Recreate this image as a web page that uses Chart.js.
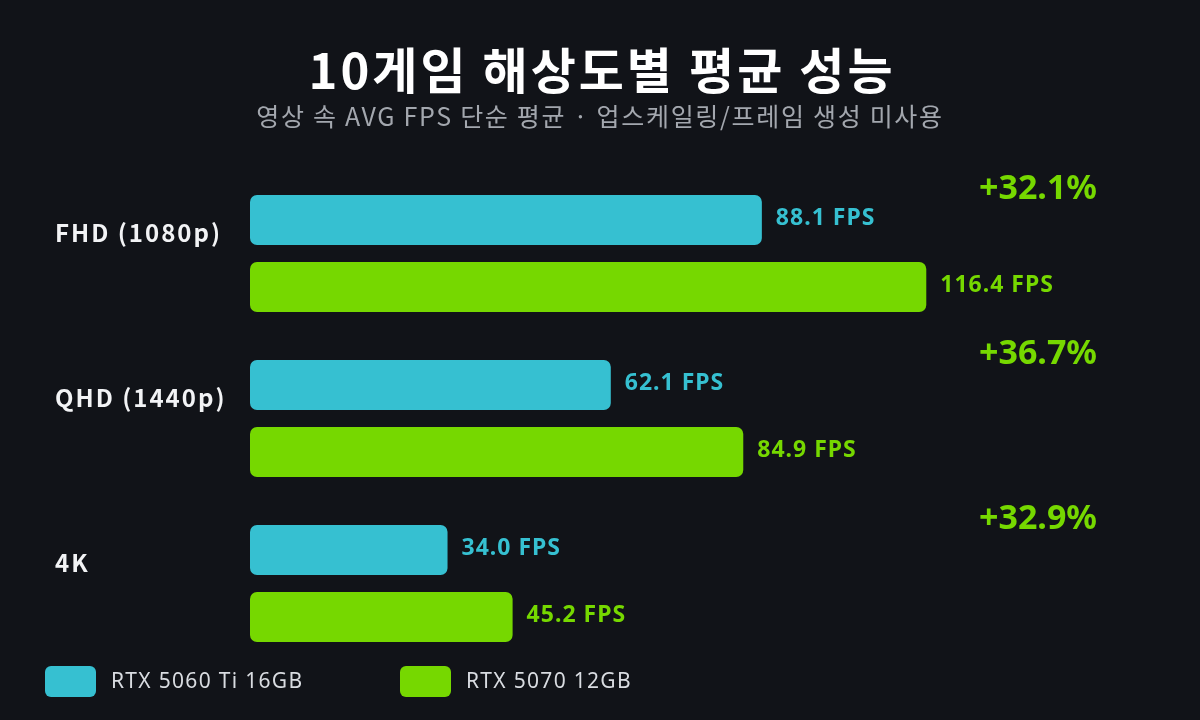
<!DOCTYPE html>
<html>
<head>
<meta charset="utf-8">
<script src="https://cdn.jsdelivr.net/npm/chart.js@4"></script>
<style>
  html, body { margin:0; padding:0; background:#111318; }
  #wrap { width:1200px; height:720px; position:relative; }
</style>
</head>
<body>
<div id="wrap"><canvas id="chart" width="1200" height="720"></canvas></div>
<script>
const categories = ['FHD (1080p)', 'QHD (1440p)', '4K'];
const rtx5060ti = [88.1, 62.1, 34.0];
const rtx5070 = [116.4, 84.9, 45.2];
const gains = ['+32.1%', '+36.7%', '+32.9%'];
const seriesNames = ['RTX 5060 Ti 16GB', 'RTX 5070 12GB'];
const colors = ['#36c0d1', '#76d800'];

const FONT = "'Noto Sans', 'Noto Sans CJK KR', sans-serif";
const KFONT = "'Noto Sans CJK KR', 'Noto Sans', sans-serif";

// 축 라벨 자간
const spacing = {
    id: 'spacing',
    beforeDraw(chart) { chart.ctx.letterSpacing = '2px'; },
    beforeDatasetsDraw(chart) { chart.ctx.letterSpacing = '0px'; }
};

// 제목, 값 라벨, 증가율, 범례
const overlay = {
    id: 'overlay',
    afterDatasetsDraw(chart) {
        const {ctx, chartArea} = chart;
        ctx.save();
        ctx.textAlign = 'center';
        ctx.textBaseline = 'alphabetic';
        ctx.fillStyle = '#ffffff';
        ctx.letterSpacing = '3px';
        ctx.font = "bold 49px " + KFONT;
        ctx.fillText('10게임 해상도별 평균 성능', 602, 89);
        ctx.fillStyle = '#a3a7ae';
        ctx.letterSpacing = '1.7px';
        ctx.font = "25px " + KFONT;
        ctx.fillText('영상 속 AVG FPS 단순 평균 · 업스케일링/프레임 생성 미사용', 600, 126);

        // 값 라벨
        ctx.textAlign = 'left';
        ctx.textBaseline = 'middle';
        ctx.letterSpacing = '1px';
        ctx.font = "bold 23px " + FONT;
        chart.data.datasets.forEach((ds, di) => {
            const meta = chart.getDatasetMeta(di);
            meta.data.forEach((bar, i) => {
                ctx.fillStyle = colors[di];
                ctx.fillText(ds.data[i].toFixed(1) + ' FPS', bar.x + 14, bar.y - 2);
            });
        });

        // 증가율
        ctx.textAlign = 'right';
        ctx.textBaseline = 'alphabetic';
        ctx.letterSpacing = '0px';
        ctx.font = "bold 34px " + FONT;
        ctx.fillStyle = colors[1];
        const meta0 = chart.getDatasetMeta(0);
        meta0.data.forEach((bar, i) => {
            ctx.fillText(gains[i], chartArea.right - 3, bar.y - bar.height / 2 + 4);
        });

        // 범례
        const legendX = [45, 400];
        ctx.textAlign = 'left';
        ctx.textBaseline = 'middle';
        ctx.letterSpacing = '1.3px';
        ctx.font = "21px " + FONT;
        seriesNames.forEach((name, i) => {
            ctx.fillStyle = colors[i];
            ctx.beginPath();
            ctx.roundRect(legendX[i], 666, 51, 31, 6);
            ctx.fill();
            ctx.fillStyle = '#d9dce1';
            ctx.fillText(name, legendX[i] + 66, 682);
        });
        ctx.restore();
    }
};

new Chart(document.getElementById('chart'), {
    type: 'bar',
    data: {
        labels: categories,
        datasets: [
            { label: seriesNames[0], data: rtx5060ti, backgroundColor: colors[0] },
            { label: seriesNames[1], data: rtx5070, backgroundColor: colors[1] }
        ]
    },
    options: {
        indexAxis: 'y',
        responsive: false,
        animation: false,
        devicePixelRatio: 1,
        layout: { padding: { left: 55, right: 100, top: 171, bottom: 54 } },
        datasets: {
            bar: {
                categoryPercentage: 0.812,
                barPercentage: 0.746,
                borderRadius: 7,
                borderSkipped: false
            }
        },
        scales: {
            x: { display: false, min: 0, max: 146.3 },
            y: {
                grid: { display: false },
                border: { display: false },
                afterFit: (scale) => { scale.width = 195; },
                ticks: {
                    crossAlign: 'far',
                    labelOffset: -21,
                    color: '#f2f3f5',
                    font: { family: KFONT, size: 24, weight: 'bold' }
                }
            }
        },
        plugins: { legend: { display: false }, tooltip: { enabled: false } }
    },
    plugins: [spacing, overlay]
});
</script>
</body>
</html>
